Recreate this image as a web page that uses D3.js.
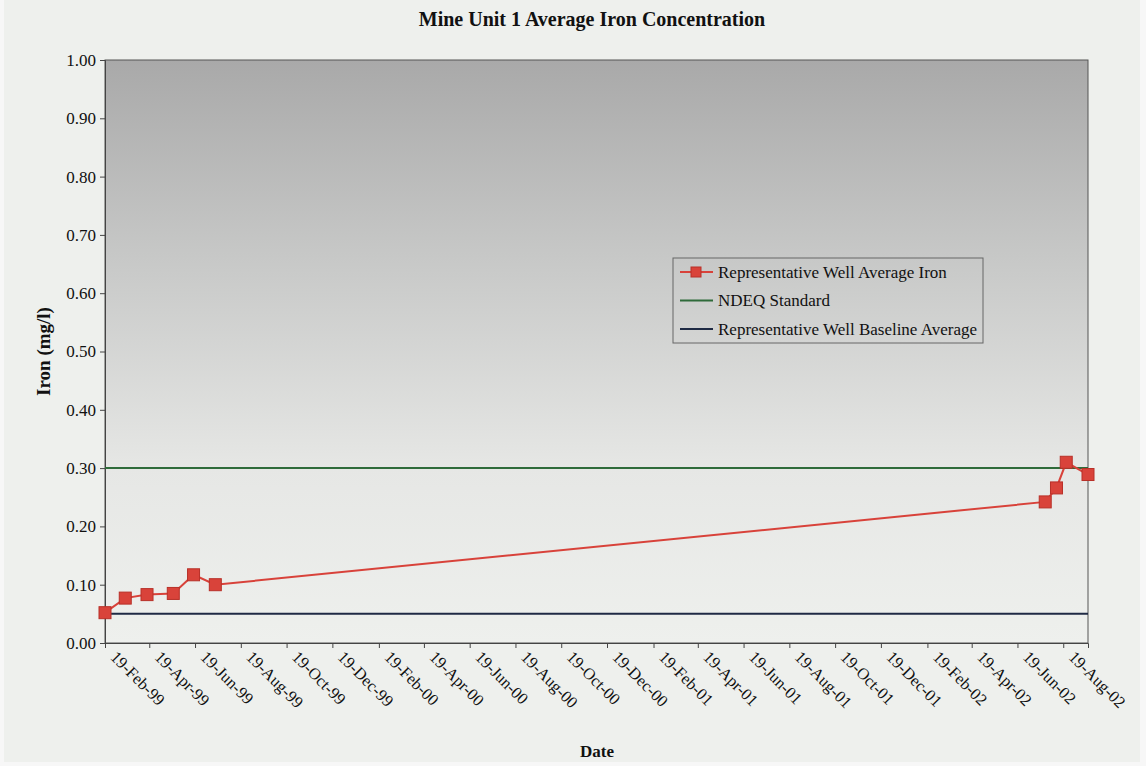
<!DOCTYPE html>
<html>
<head>
<meta charset="utf-8">
<script src="https://cdn.jsdelivr.net/npm/d3@7"></script>
<style>
  html, body { margin: 0; padding: 0; background: #ffffff; }
  svg { display: block; }
  text { font-family: "Liberation Serif", "Times New Roman", serif; fill: #111; }
</style>
</head>
<body>
<svg id="chart" width="1146" height="766"></svg>
<script>
// ---- Data ----
const sampleDates = ["1999-02-19","1999-03-18","1999-04-16","1999-05-21","1999-06-17","1999-07-16",
                     "2002-07-26","2002-08-10","2002-08-23","2002-09-21"];
const ironValues  = [0.052, 0.077, 0.083, 0.085, 0.117, 0.100, 0.242, 0.266, 0.310, 0.289];
const ndeqStandard = 0.30;
const baselineAverage = 0.05;
const xDomain = ["1999-02-19", "2002-09-21"];
const xTickDates = ["1999-02-19","1999-04-19","1999-06-19","1999-08-19","1999-10-19","1999-12-19",
                    "2000-02-19","2000-04-19","2000-06-19","2000-08-19","2000-10-19","2000-12-19",
                    "2001-02-19","2001-04-19","2001-06-19","2001-08-19","2001-10-19","2001-12-19",
                    "2002-02-19","2002-04-19","2002-06-19","2002-08-19"];
const yTicks = [0, 0.1, 0.2, 0.3, 0.4, 0.5, 0.6, 0.7, 0.8, 0.9, 1.0];
const legendLabels = ["Representative Well Average Iron", "NDEQ Standard", "Representative Well Baseline Average"];

// ---- Layout ----
const W = 1146, H = 766;
const plot = { left: 105, top: 60, right: 1088, bottom: 643 };
const parse = d3.timeParse("%Y-%m-%d");
const fmt = d3.timeFormat("%d-%b-%y");

const svg = d3.select("#chart");

// page background
svg.append("rect").attr("x", 0).attr("y", 0).attr("width", W).attr("height", H).attr("fill", "#f7f7f7");
svg.append("rect").attr("x", 4).attr("y", 0).attr("width", W - 10).attr("height", H - 4).attr("fill", "#eef0ed");

const x = d3.scaleTime().domain(xDomain.map(parse)).range([plot.left, plot.right]);
const y = d3.scaleLinear().domain([0, 1]).range([plot.bottom, plot.top]);

// gradient
const defs = svg.append("defs");
const grad = defs.append("linearGradient").attr("id", "bg").attr("x1", 0).attr("y1", 0).attr("x2", 0).attr("y2", 1);
grad.append("stop").attr("offset", "0%").attr("stop-color", "#a9a9a9");
grad.append("stop").attr("offset", "35%").attr("stop-color", "#c8c9c8");
grad.append("stop").attr("offset", "70%").attr("stop-color", "#e6e7e5");
grad.append("stop").attr("offset", "100%").attr("stop-color", "#eef0ed");

svg.append("rect")
  .attr("x", plot.left).attr("y", plot.top)
  .attr("width", plot.right - plot.left).attr("height", plot.bottom - plot.top)
  .attr("fill", "url(#bg)").attr("stroke", "#555").attr("stroke-width", 1);

// Title
svg.append("text").attr("x", 592).attr("y", 26).attr("text-anchor", "middle")
  .style("font-size", "20px").style("font-weight", "bold")
  .text("Mine Unit 1 Average Iron Concentration");

// Y axis
const yAxis = d3.axisLeft(y).tickValues(yTicks).tickFormat(d3.format(".2f")).tickSize(5).tickPadding(4);
const gy = svg.append("g").attr("transform", `translate(${plot.left},0)`).call(yAxis);
gy.select(".domain").attr("stroke", "#444");
gy.selectAll(".tick line").attr("stroke", "#444");
gy.selectAll(".tick text").style("font-size", "17px").style("font-family", "Liberation Serif, serif").attr("fill", "#222");

// Y axis title
svg.append("text")
  .attr("transform", `translate(50,${(plot.top + plot.bottom) / 2}) rotate(-90)`)
  .attr("text-anchor", "middle")
  .style("font-size", "19px").style("font-weight", "bold")
  .text("Iron (mg/l)");

// X axis
const xAxis = d3.axisBottom(x).tickValues(xTickDates.map(parse)).tickFormat(fmt).tickSize(5);
const gx = svg.append("g").attr("transform", `translate(0,${plot.bottom})`).call(xAxis);
gx.select(".domain").attr("stroke", "#444");
gx.selectAll(".tick line").attr("stroke", "#444");
gx.selectAll(".tick text")
  .style("font-size", "16.5px").style("font-family", "Liberation Serif, serif").attr("fill", "#222")
  .attr("text-anchor", "start")
  .attr("dy", null).attr("y", null)
  .attr("transform", "translate(4,15) rotate(45)");

// X axis title
svg.append("text").attr("x", 597).attr("y", 757).attr("text-anchor", "middle")
  .style("font-size", "17px").style("font-weight", "bold").text("Date");

// Reference lines
svg.append("line")
  .attr("x1", plot.left).attr("x2", plot.right)
  .attr("y1", y(ndeqStandard)).attr("y2", y(ndeqStandard))
  .attr("stroke", "#2f6b3a").attr("stroke-width", 2);
svg.append("line")
  .attr("x1", plot.left).attr("x2", plot.right)
  .attr("y1", y(baselineAverage)).attr("y2", y(baselineAverage))
  .attr("stroke", "#1f2a44").attr("stroke-width", 2);

// Series
const series = sampleDates.map((d, i) => ({ date: parse(d), value: ironValues[i] }));
const red = "#d8423a";
svg.append("path").datum(series)
  .attr("fill", "none").attr("stroke", red).attr("stroke-width", 2)
  .attr("d", d3.line().x(d => x(d.date)).y(d => y(d.value)));
const ms = 12;
svg.selectAll("rect.marker").data(series).enter().append("rect")
  .attr("class", "marker")
  .attr("x", d => x(d.date) - ms / 2).attr("y", d => y(d.value) - ms / 2)
  .attr("width", ms).attr("height", ms)
  .attr("fill", "#d9433a").attr("stroke", "#b83028").attr("stroke-width", 1);

// Legend
const lg = svg.append("g");
lg.append("rect").attr("x", 673).attr("y", 258).attr("width", 310).attr("height", 85)
  .attr("fill", "none").attr("stroke", "#666").attr("stroke-width", 1);
const legendStyles = [
  { color: red, marker: true },
  { color: "#2f6b3a", marker: false },
  { color: "#1f2a44", marker: false }
];
legendLabels.forEach((lab, i) => {
  const ly = 272 + i * 28.5;
  lg.append("line").attr("x1", 680).attr("x2", 713).attr("y1", ly).attr("y2", ly)
    .attr("stroke", legendStyles[i].color).attr("stroke-width", 2);
  if (legendStyles[i].marker) {
    lg.append("rect").attr("x", 691).attr("y", ly - 5).attr("width", 10).attr("height", 10)
      .attr("fill", "#d9433a").attr("stroke", "#b83028");
  }
  lg.append("text").attr("x", 718).attr("y", ly + 5.5)
    .style("font-size", "17px").text(lab);
});
</script>
</body>
</html>
